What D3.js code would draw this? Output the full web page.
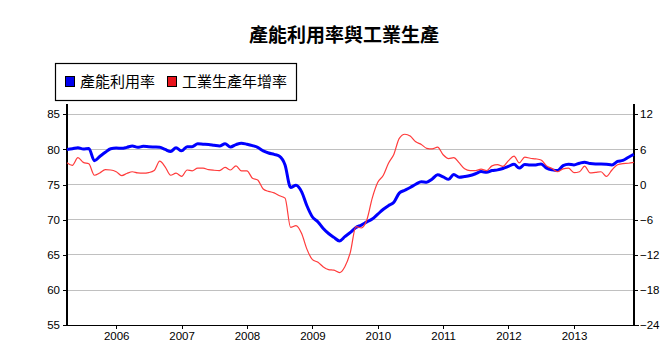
<!DOCTYPE html>
<html><head><meta charset="utf-8">
<script src="https://cdn.jsdelivr.net/npm/d3@7"></script>
<style>
html,body{margin:0;padding:0;background:#fff;}
svg{display:block;}
</style></head>
<body>
<svg id="chart" width="668" height="360"></svg>
<script>
const titleText = "產能利用率與工業生產";
const seriesNames = ["產能利用率", "工業生產年增率"];
const firstMonth = "2005-04";
const capacityUtil = [
80.0,80.1,80.25,80.07,80.15,78.4,79.0,79.6,80.1,80.2,80.16,80.3,
80.5,80.3,80.45,80.4,80.35,80.3,80.0,79.7,80.25,79.8,80.4,80.4,
80.8,80.75,80.7,80.6,80.5,80.8,80.35,80.7,80.9,80.75,80.55,80.3,
79.8,79.5,79.3,79.05,77.8,74.6,74.9,74.0,72.0,70.4,69.7,68.8,
68.05,67.5,67.0,67.6,68.2,68.9,69.25,69.7,70.1,70.8,71.5,72.0,
72.5,73.8,74.2,74.6,75.05,75.4,75.35,75.8,76.4,76.1,75.75,76.45,
76.05,76.15,76.3,76.55,76.85,76.75,77.0,77.1,77.3,77.6,77.9,77.35,
77.85,77.8,77.8,77.95,77.35,77.1,77.0,77.7,77.9,77.8,78.05,78.2,
78.0,77.95,77.95,77.9,77.8,78.3,78.45,78.9,79.3];
const ipGrowth = [
3.75,3.3,4.6,3.8,3.55,1.6,2.0,2.55,2.5,2.2,1.55,1.9,
2.2,2.0,1.95,2.05,2.4,4.0,3.05,1.6,1.95,1.4,2.5,2.35,
2.8,2.8,2.55,2.45,2.4,2.95,2.5,3.2,2.35,2.35,1.1,0.8,
-0.75,-1.15,-1.4,-1.9,-2.3,-7.3,-7.0,-8.3,-11.0,-12.8,-13.25,-14.0,
-14.5,-14.6,-15.0,-14.0,-11.5,-7.15,-7.4,-6.0,-2.3,0.4,1.6,3.6,
5.2,7.9,8.6,8.3,7.3,6.85,6.2,6.1,6.4,5.1,4.45,4.6,
3.7,2.7,2.4,2.4,2.65,2.4,3.2,3.4,3.1,4.1,4.85,3.7,
4.7,4.5,4.4,4.2,3.2,2.75,2.2,2.7,2.8,2.05,2.2,3.15,
2.0,2.1,2.2,1.4,2.5,3.4,3.6,3.65,3.8];
const leftTicks = [55,60,65,70,75,80,85];
const rightTicks = [-24,-18,-12,-6,0,6,12];
const yearTicks = [2006,2007,2008,2009,2010,2011,2012,2013];

const svg = d3.select("#chart");
const L = 67, R = 634, T = 114.3, B = 325.3, axisTop = 104;
const parse = d3.timeParse("%Y-%m");
const start = parse(firstMonth);
const dates = capacityUtil.map((d,i) => d3.timeMonth.offset(start, i));

const x = d3.scaleTime().domain([dates[0], dates[dates.length-1]]).range([L, R - 0.2]);
const yL = d3.scaleLinear().domain([55,85]).range([B, T]);
const yR = d3.scaleLinear().domain([-24,12]).range([B, T]);

const font = "'Liberation Sans', Arial, sans-serif";
const cjk = "'Noto Sans CJK TC', 'Noto Sans CJK SC', sans-serif";

// title
svg.append("text").attr("x", 344).attr("y", 42).attr("text-anchor","middle")
  .attr("font-family", cjk).attr("font-size", 19).attr("font-weight","bold")
  .attr("fill","#000").text(titleText);

// gridlines
svg.append("g").selectAll("line").data(leftTicks.slice(1)).join("line")
  .attr("x1", L).attr("x2", R).attr("y1", d => yL(d)).attr("y2", d => yL(d))
  .attr("stroke", "#c0c0c0").attr("stroke-width", 1).attr("shape-rendering","crispEdges");

// left axis
const gL = svg.append("g").attr("transform", `translate(${L},0)`)
  .call(d3.axisLeft(yL).tickValues(leftTicks).tickSize(4).tickSizeOuter(0).tickPadding(3));
gL.select(".domain").remove();
gL.selectAll("text").attr("font-family", font).attr("font-size", 11.5).attr("fill","#000");
gL.selectAll(".tick line").attr("stroke","#000").attr("shape-rendering","crispEdges");
svg.append("line").attr("x1",L).attr("x2",L).attr("y1",axisTop).attr("y2",B)
  .attr("stroke","#000").attr("stroke-width",1.3).attr("shape-rendering","crispEdges");

// right axis
const gR = svg.append("g").attr("transform", `translate(${R},0)`)
  .call(d3.axisRight(yR).tickValues(rightTicks).tickSize(4).tickSizeOuter(0).tickPadding(2));
gR.select(".domain").remove();
gR.selectAll("text").attr("font-family", font).attr("font-size", 11.5).attr("fill","#000");
gR.selectAll(".tick line").attr("stroke","#000").attr("shape-rendering","crispEdges");
svg.append("line").attr("x1",R).attr("x2",R).attr("y1",axisTop).attr("y2",B)
  .attr("stroke","#000").attr("stroke-width",1.3).attr("shape-rendering","crispEdges");

// bottom axis
const gB = svg.append("g").attr("transform", `translate(0,${B})`)
  .call(d3.axisBottom(x).tickValues(yearTicks.map(y => new Date(y,0,1)))
    .tickFormat(d3.timeFormat("%Y")).tickSize(4).tickSizeOuter(0).tickPadding(3));
gB.select(".domain").remove();
gB.selectAll("text").attr("font-family", font).attr("font-size", 11.5).attr("fill","#000");
gB.selectAll(".tick line").attr("stroke","#000").attr("shape-rendering","crispEdges");
svg.append("line").attr("x1",L-4).attr("x2",R+5).attr("y1",B).attr("y2",B)
  .attr("stroke","#000").attr("stroke-width",1.3).attr("shape-rendering","crispEdges");

// lines
const lineL = d3.line().x((d,i) => x(dates[i])).y(d => yL(d)).curve(d3.curveMonotoneX);
const lineR = d3.line().x((d,i) => x(dates[i])).y(d => yR(d)).curve(d3.curveMonotoneX);
svg.append("path").datum(capacityUtil).attr("d", lineL)
  .attr("fill","none").attr("stroke","#0000ff").attr("stroke-width",3).attr("stroke-linejoin","round");
svg.append("path").datum(ipGrowth).attr("d", lineR)
  .attr("fill","none").attr("stroke","#ff3b3b").attr("stroke-width",1.2).attr("stroke-linejoin","round");

// legend
const lg = svg.append("g");
lg.append("rect").attr("x",55.5).attr("y",63.5).attr("width",241).attr("height",37)
  .attr("fill","#fff").attr("stroke","#000").attr("stroke-width",1.2);
const legendColors = ["#0000ee","#e8141c"];
const legendX = [65, 167];
seriesNames.forEach((n,i) => {
  lg.append("rect").attr("x", legendX[i]+0.5).attr("y", 76.5).attr("width", 9).attr("height", 10)
    .attr("fill", legendColors[i]).attr("stroke","#000").attr("stroke-width",1);
  lg.append("text").attr("x", legendX[i]+15).attr("y", 87).attr("font-family", cjk)
    .attr("font-size", 15).attr("fill","#000").text(n);
});
</script>
</body></html>
